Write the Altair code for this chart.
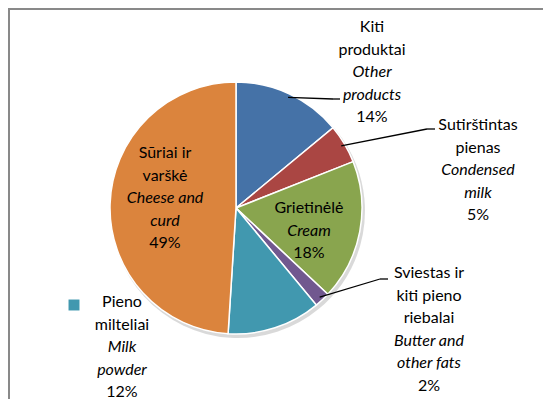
import math
import altair as alt
import pandas as pd

# ---- data ----
lt_lines = [["Kiti", "produktai"], ["Sutirštintas", "pienas"], ["Grietinėlė"],
            ["Sviestas ir", "kiti pieno", "riebalai"], ["Pieno", "milteliai"], ["Sūriai ir", "varškė"]]
en_lines = [["Other", "products"], ["Condensed", "milk"], ["Cream"],
            ["Butter and", "other fats"], ["Milk", "powder"], ["Cheese and", "curd"]]
shares = [14, 5, 18, 2, 12, 49]
colors = ["#4572A7", "#AA4643", "#89A54E", "#71588F", "#4198AF", "#DB843D"]

# ---- layout (chart pixel coords) ----
W, H = 535, 391
CX, CY, R = 228, 200, 126
LINE_H = 22.5
FONT = "Lato"
FS = 16
label_pos = [(364, 19), (470, 117), (301, 200), (421, 265), (114, 294), (157, 145)]
leader_end = {0: [(325, 91), (332, 91)], 1: [(419, 121), (427, 121)], 3: [(372, 271), (380, 271)]}

keys = [" / ".join(l) for l in lt_lines]
pie_df = pd.DataFrame({"key": keys, "share": shares, "idx": range(len(shares))})

# text rows
rows = []
for i, (lt, en, s) in enumerate(zip(lt_lines, en_lines, shares)):
    x, y = label_pos[i]
    k = 0
    for t in lt:
        rows.append({"x": x, "y": y + k * LINE_H, "t": t, "it": False}); k += 1
    for t in en:
        rows.append({"x": x, "y": y + k * LINE_H, "t": t, "it": True}); k += 1
    rows.append({"x": x, "y": y + k * LINE_H, "t": f"{s}%", "it": False})
txt_df = pd.DataFrame(rows)

# leader lines, starting at slice mid-angle near the edge
segs = []
cum = 0
tot = sum(shares)
for i, s in enumerate(shares):
    mid = (cum + s / 2) / tot * 2 * math.pi
    cum += s
    if i in leader_end:
        r0 = R * 0.97
        sx, sy = CX + r0 * math.sin(mid), CY - r0 * math.cos(mid)
        (ex, ey), (fx, fy) = leader_end[i]
        segs.append({"x": sx, "y": sy, "x2": ex, "y2": ey})
        segs.append({"x": ex, "y": ey, "x2": fx, "y2": fy})
seg_df = pd.DataFrame(segs)

shadow = alt.Chart(pie_df).mark_arc(color="#000000", opacity=0.15, radius=R + 1).encode(
    theta=alt.Theta("share:Q", stack=True), order=alt.Order("idx:Q"),
    x=alt.value(CX + 2), y=alt.value(CY + 3))

pie = alt.Chart(pie_df).mark_arc(radius=R, stroke="white", strokeWidth=1.5).encode(
    theta=alt.Theta("share:Q", stack=True),
    order=alt.Order("idx:Q"),
    color=alt.Color("key:N", scale=alt.Scale(domain=keys, range=colors), legend=None),
    x=alt.value(CX), y=alt.value(CY))

lines = alt.Chart(seg_df).mark_rule(color="black", strokeWidth=1.3).encode(
    x=alt.X("x:Q", scale=None), y=alt.Y("y:Q", scale=None),
    x2="x2:Q", y2="y2:Q")

base_t = alt.Chart(txt_df).encode(
    x=alt.X("x:Q", scale=None), y=alt.Y("y:Q", scale=None), text="t:N")
reg = base_t.transform_filter("!datum.it").mark_text(
    font=FONT, fontSize=FS, color="black", align="center", baseline="middle")
ita = base_t.transform_filter("datum.it").mark_text(
    font=FONT, fontSize=FS, fontStyle="italic", color="black", align="center", baseline="middle")

legend_sq = alt.Chart(pd.DataFrame({"k": [keys[4]]})).mark_square(size=120, opacity=1).encode(
    x=alt.value(66), y=alt.value(297),
    color=alt.Color("k:N", scale=alt.Scale(domain=keys, range=colors), legend=None))

border = alt.Chart(pd.DataFrame({"a": [0]})).mark_rule(color="#898989", strokeWidth=2).encode(
    x=alt.value(0), x2=alt.value(W), y=alt.value(1))
border2 = alt.Chart(pd.DataFrame({"a": [0]})).mark_rule(color="#898989", strokeWidth=2).encode(
    x=alt.value(1), y=alt.value(0), y2=alt.value(H))

chart = alt.layer(shadow, pie, lines, reg, ita, legend_sq, border, border2).properties(
    width=W, height=H, padding=0, autosize=alt.AutoSizeParams(type="none")
).configure_view(stroke=None).configure(background="white")

chart.save("out.html", embed_options={"renderer": "svg", "actions": False})
